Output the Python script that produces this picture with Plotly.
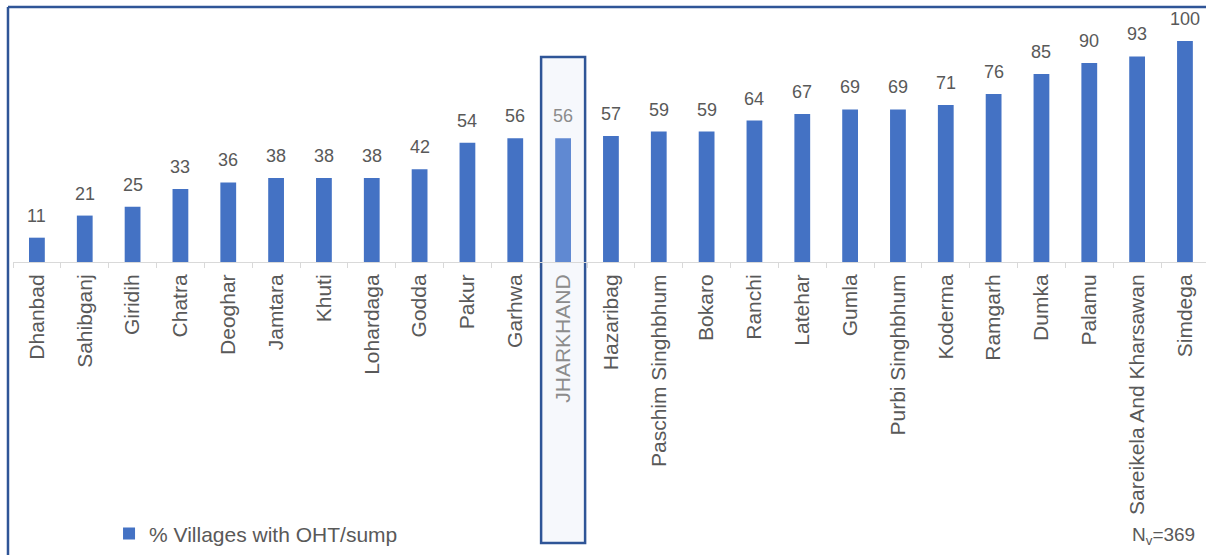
import plotly.graph_objects as go

# District-wise share of villages with an overhead tank / sump
districts = ["Dhanbad", "Sahibganj", "Giridih", "Chatra", "Deoghar", "Jamtara", "Khuti",
             "Lohardaga", "Godda", "Pakur", "Garhwa", "JHARKHAND", "Hazaribag",
             "Paschim Singhbhum", "Bokaro", "Ranchi", "Latehar", "Gumla", "Purbi Singhbhum",
             "Koderma", "Ramgarh", "Dumka", "Palamu", "Sareikela And Kharsawan", "Simdega"]
pct_villages = [11, 21, 25, 33, 36, 38, 38, 38, 42, 54, 56, 56, 57,
                59, 59, 64, 67, 69, 69, 71, 76, 85, 90, 93, 100]
state_name = "JHARKHAND"
sample_note = "N<sub>v</sub>=369"

FONT = "Liberation Sans, Arial, sans-serif"
BAR = "#4472c4"
BAR_STATE = "#6089d2"
TXT = "#595959"
TXT_STATE = "#8c8c8c"
FRAME = "#2f5597"

bar_colors = [BAR_STATE if d == state_name else BAR for d in districts]
tick_text = [f'<span style="color:{TXT_STATE}">{d}</span>' if d == state_name else d
             for d in districts]

fig = go.Figure()
fig.add_trace(go.Bar(
    x=districts, y=pct_villages, width=0.33,
    marker=dict(color=bar_colors, line=dict(width=0)),
    name="% Villages with OHT/sump", showlegend=True,
))

# value labels above each bar
for d, v in zip(districts, pct_villages):
    fig.add_annotation(
        x=d, y=v, text=str(v), showarrow=False, yanchor="bottom", yshift=10,
        font=dict(family=FONT, size=18, color=TXT_STATE if d == state_name else TXT),
    )

# highlight box around the state total
state_idx = districts.index(state_name)
fig.add_shape(type="rect", xref="x", yref="paper",
              x0=state_idx - 0.46, x1=state_idx + 0.46, y0=-1.106, y1=0.807,
              fillcolor="#f6f8fc", line=dict(color=FRAME, width=2.5), layer="below")

# outer frame (top and left edges)
fig.add_shape(type="line", xref="paper", yref="paper", x0=-0.0042, x1=1.01, y0=1.004, y1=1.004,
              line=dict(color=FRAME, width=2.5))
fig.add_shape(type="line", xref="paper", yref="paper", x0=-0.0042, x1=-0.0042, y0=1.004, y1=-1.17,
              line=dict(color=FRAME, width=2.5))

fig.add_annotation(xref="paper", yref="paper", x=0.9925, y=-1.08, xanchor="right", yanchor="middle",
                   text=sample_note, showarrow=False,
                   font=dict(family=FONT, size=19, color=TXT))

fig.update_layout(
    width=1206, height=555,
    margin=dict(l=13, r=0, t=8, b=293, autoexpand=False),
    paper_bgcolor="white", plot_bgcolor="rgba(0,0,0,0)",
    font=dict(family=FONT, color=TXT),
    bargap=0.67,
    legend=dict(x=0.0805, y=-1.07, xanchor="left", yanchor="middle", orientation="h",
                font=dict(family=FONT, size=21, color=TXT), bgcolor="rgba(0,0,0,0)"),
    xaxis=dict(
        type="category", range=[-0.5, 24.44],
        tickmode="array", tickvals=districts, ticktext=tick_text,
        tickangle=-90, tickfont=dict(family=FONT, size=21, color=TXT),
        ticklabelstandoff=3,
        showline=True, linecolor="#d9d9d9", linewidth=1,
        ticks="outside", tickson="boundaries", ticklen=5, tickcolor="#d9d9d9",
        showgrid=False, automargin=False,
    ),
    yaxis=dict(range=[0, 114.9], visible=False, showgrid=False, zeroline=False),
)

fig.write_html("out.html")
